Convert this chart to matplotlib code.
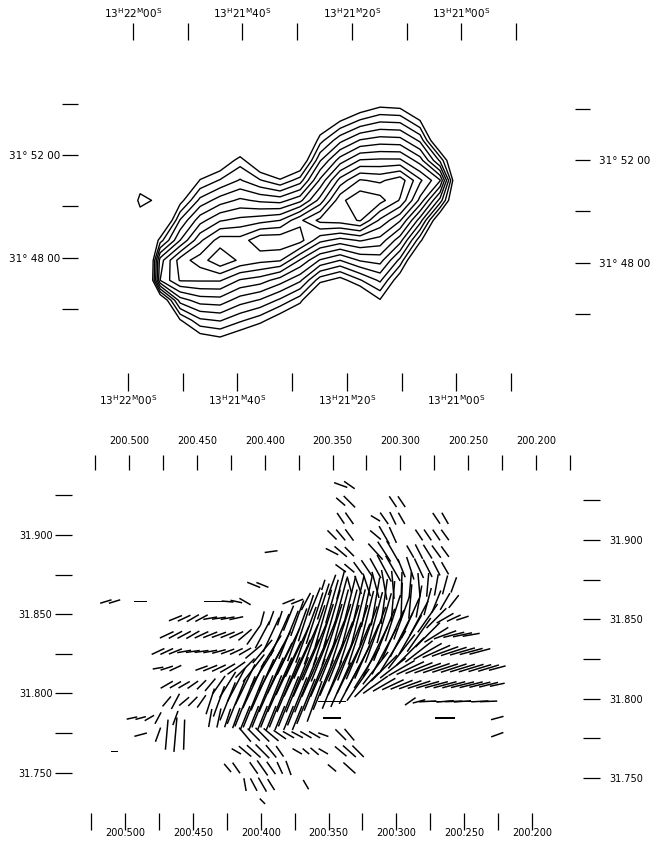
import numpy as np
import matplotlib
matplotlib.use('Agg')
import matplotlib.pyplot as plt

plt.rcParams['font.family'] = ['DejaVu Sans']
plt.rcParams['mathtext.default'] = 'regular'

# ---------------- top panel: total intensity contours ----------------
# grid positions: RA in seconds past 13h21m00s, Dec in arcmin past 31d00m
ra_grid_s = np.linspace(61.9, -3.9, 19)
dec_grid_m = np.linspace(55.0, 44.1, 15)
# number of contours enclosing each grid point (<0 = outside)
contour_count = [
    [-3, -3, -3, -3, -3, -3, -3, -3, -3, -3, -3, -3, -3, -3, -3, -3, -3, -3, -3],
    [-3, -3, -3, -3, -3, -3, -3, -3, -3, -3, -3, -2, -1.2, -0.4, -0.6, -2, -3, -3, -3],
    [-3, -3, -3, -3, -3, -3, -3, -3, -3, -3, -1.1, 0.4, 1.6, 2.3, 2.2, 0.5, -3, -3, -3],
    [-3, -3, -3, -3, -3, -3, -1.7, -3, -3, -3, 1.1, 3.2, 4.6, 5.0, 4.9, 3.3, -1.9, -3, -3],
    [-3, -2, -3, -3, -1.7, -0.7, 1.0, -1.1, -2.7, -1.1, 3.4, 6.0, 7.6, 7.7, 7.7, 6.0, 2.3, -3, -3],
    [-3, -0.3, -3, -2.6, 0.6, 1.6, 2.6, 1.6, 0.7, 2.0, 5.7, 8.9, 10.6, 10.3, 11.1, 8.7, 6.6, -3, -3],
    [-2.5, 0.9, 0.2, 0.0, 2.8, 4.0, 4.7, 4.3, 4.1, 5.2, 7.9, 11.2, 12.3, 11.9, 10.4, 7.2, 3.1, -3, -3],
    [-3, -0.3, -2.6, 2.6, 5.1, 6.4, 6.8, 7.1, 7.5, 9.3, 10.8, 11.0, 11.6, 9.3, 7.6, 4.0, -1.3, -3, -3],
    [-3, -4, 1.0, 4.5, 7.3, 9.0, 8.9, 10.3, 10.3, 9.9, 7.8, 7.1, 7.6, 7.1, 4.9, 0.8, -3, -3, -3],
    [-3, -8, 5.0, 8.0, 9.0, 10.3, 9.3, 8.8, 8.6, 6.4, 4.4, 3.5, 4.6, 4.9, 2.2, -2.4, -3, -3, -3],
    [-3, -8, 5.5, 7.6, 7.6, 7.6, 6.4, 6.0, 5.0, 3.7, 0.9, 0.0, 1.4, 2.7, -0.5, -3, -3, -3, -3],
    [-3, -4, -1.5, 4.0, 5.0, 5.1, 4.0, 3.4, 2.3, 0.9, -2.6, -3, -1.7, 0.4, -3, -3, -3, -3, -3],
    [-3, -3, -3, 0.4, 2.3, 2.6, 1.7, 0.9, -0.4, -1.8, -3, -3, -3, -2, -3, -3, -3, -3, -3],
    [-3, -3, -3, -3, -0.4, 0.1, -0.7, -1.7, -3, -3, -3, -3, -3, -3, -3, -3, -3, -3, -3],
    [-3, -3, -3, -3, -3, -2.4, -3, -3, -3, -3, -3, -3, -3, -3, -3, -3, -3, -3, -3],
]
contour_levels = np.arange(0.5, 12.0, 1.0)

ra_ticks_s = [60, 50, 40, 30, 20, 10, 0, -10]
ra_ticklabels = [r'13$^{H}$22$^{M}$00$^{S}$', '', r'13$^{H}$21$^{M}$40$^{S}$', '',
                 r'13$^{H}$21$^{M}$20$^{S}$', '', r'13$^{H}$21$^{M}$00$^{S}$', '']
dec_ticks_m = [54, 52, 50, 48, 46]
dec_ticklabels = ['', '31° 52 00', '', '31° 48 00', '']

# ---------------- bottom panel: polarisation vectors ----------------
ra_top_ticks = [200.525, 200.500, 200.475, 200.450, 200.425, 200.400, 200.375, 200.350,
                200.325, 200.300, 200.275, 200.250, 200.225, 200.200, 200.175]
ra_bottom_ticks = ra_top_ticks[:-1]
dec_ticks_deg = [31.925, 31.900, 31.875, 31.850, 31.825, 31.800, 31.775, 31.750]

vec_ra0, vec_dra = 200.522, 0.00641      # RA of column 0 and column step (deg)
vec_dec0, vec_ddec = 31.9331, 0.0105     # Dec of row 0 and row step (deg)
N = None
vec_first_col = [28, 28, 28, 27, 20, 28, 18, 1, 9, 8, 7, 7, 8, 8, 4, 5, 2, 15, 17, 19]
# position angle on the page, degrees from west through north
vec_angle = [
    [-20, -35],
    [-41, -45, N, N, N, N, -56, -56],
    [-56, -55, N, N, -31, -55, -64, -60, N, N, N, -56, -60],
    [-45, -50, -54, N, N, -40, -60, -66, N, N, -56, -56, -56, -54],
    [8, N, N, N, N, N, N, -27, -40, -45, N, N, -48, -57, -60, N, -60, -63, -58, -54, -54],
    [-36, -40, -54, -56, -61, -62, -60, -68, -72, -65, -63, -63, -60],
    [-22, -22, N, N, N, N, N, N, 72, 70, 75, -75, -70, -72, -75, -80, -85, 88, 85, -85,
     85, 80, 75, 70],
    [17, 17, N, N, 0, N, N, N, N, N, N, N, 0, 0, -5, -12, -30, N, N, N, N, 22, 22, 62, 68,
     72, 74, 75, 76, 77, 78, 80, 82, 85, 88, 85, 80, 75, 68, 60, 52],
    [22, 25, 30, 28, 10, 8, 10, 12, N, N, 75, 70, 72, 68, 70, 72, 72, 74, 74, 75, 75, 76,
     76, 75, 74, 72, 70, 66, 62, 55, 45, 30, 25, 18],
    [25, 28, 28, 30, 25, 22, 20, 22, 25, 40, 55, 62, 65, 66, 68, 70, 70, 71, 72, 72, 72,
     72, 72, 70, 70, 68, 66, 63, 60, 55, 45, 32, 20, 14, 12, 10],
    [25, 25, 22, 10, 8, 8, 10, 15, 20, 25, 30, 40, 50, 58, 62, 64, 65, 66, 67, 68, 68, 68,
     68, 67, 66, 64, 62, 58, 52, 45, 38, 30, 24, 20, 18, 16, 15, 15],
    [10, 18, 25, N, N, 20, 22, 25, 30, 35, 45, 52, 58, 62, 64, 65, 65, 66, 66, 66, 66, 65,
     64, 62, 58, 52, 45, 38, 30, 25, 22, 20, 19, 18, 18, 17, 17, 17, 17, 15],
    [30, 30, 30, 35, 45, 50, 55, 58, 62, 64, 65, 66, 66, 66, 67, 68, 68, 68, 68, 68, 66,
     62, 55, 45, 35, 30, 25, 22, 20, 18, 16, 15, 15, 15, 14, 14, 14, 14, 12],
    [50, 62, 40, 45, 55, 72, 70, 68, 68, 68, 68, 68, 68, 68, 68, 68, 68, 70, 0, 0, 0,
     N, N, N, N, N, N, N, 35, 15, 3, 0, 5, 2, 4, 0, 3, 2],
    [12, 15, 30, 62, N, 70, N, N, N, 80, 78, 72, 70, 68, 68, 68, 68, 68, 68, 68, N, N, N, 0,
     N, N, N, N, N, N, N, N, N, N, N, N, 0, N, N, N, N, N, 15],
    [15, N, 70, 85, 85, 88, N, N, N, N, N, N, -50, -45, -45, -40, -35, -30, -28, -30, -30,
     -20, N, -45, -50, N, N, N, N, N, N, N, N, N, N, N, N, N, N, N, N, 20],
    [0, N, N, N, N, N, N, N, N, N, N, N, N, N, -30, -40, -42, -45, -50, -55, N, -30, -40,
     -40, -30, N, -40, -42, -45],
    [-50, -55, N, -55, -55, -55, -65, -70, N, N, N, N, -40, N, -42],
    [-80, -62, -60, -58, N, N, N, -60],
    [-45],
]
vec_length = [
    [13, 12],
    [11, 15, N, N, N, N, 12, 12],
    [12, 13, N, N, 10, 13, 13, 12, N, N, N, 12, 12],
    [12, 13, 13, N, N, 13, 19, 16, N, N, 12, 12, 12, 12],
    [12, N, N, N, N, N, N, 13, 15, 12, N, N, 20, 22, 23, N, 13, 15, 15, 14, 12],
    [12, 12, 14, 18, 21, 28, 27, 18, 22, 20, 18, 15, 13],
    [13, 12, N, N, N, N, N, N, 10, 20, 28, 16, 18, 22, 25, 28, 26, 24, 24, 22, 22, 20, 18, 15],
    [11, 11, N, N, 12, N, N, N, N, N, N, N, 11, 11, 11, 11, 12, N, N, N, N, 12, 12, 18, 28,
     35, 42, 45, 48, 48, 48, 45, 42, 38, 35, 32, 30, 26, 22, 18, 15],
    [13, 13, 13, 13, 13, 13, 13, 13, N, N, 13, 14, 14, 25, 35, 45, 50, 55, 55, 55, 55, 55,
     52, 50, 48, 45, 42, 40, 36, 32, 26, 18, 14, 12],
    [14, 14, 14, 14, 14, 14, 14, 14, 14, 16, 22, 28, 35, 42, 48, 52, 55, 58, 60, 60, 60,
     58, 58, 56, 55, 52, 50, 46, 42, 38, 32, 26, 22, 20, 18, 16],
    [13, 13, 13, 13, 13, 13, 13, 13, 13, 13, 13, 20, 28, 35, 42, 48, 52, 55, 58, 60, 60, 60,
     58, 56, 55, 52, 48, 45, 40, 36, 32, 30, 28, 26, 25, 24, 22, 20],
    [10, 12, 12, N, N, 12, 14, 14, 16, 20, 25, 32, 40, 48, 52, 55, 58, 58, 58, 58, 56, 55,
     52, 48, 44, 38, 34, 30, 28, 28, 27, 26, 26, 25, 25, 24, 24, 22, 20, 16],
    [13, 12, 12, 12, 12, 15, 20, 28, 35, 42, 48, 52, 55, 55, 55, 55, 55, 52, 50, 48, 45,
     40, 36, 32, 28, 24, 22, 22, 22, 22, 22, 22, 22, 22, 22, 22, 20, 18, 14],
    [12, 16, 12, 12, 14, 25, 30, 38, 45, 50, 52, 52, 52, 52, 50, 48, 45, 40, 10, 10, 10,
     N, N, N, N, N, N, N, 12, 12, 16, 16, 16, 16, 16, 16, 16, 16],
    [10, 10, 10, 12, N, 14, N, N, N, 17, 18, 18, 20, 24, 24, 24, 24, 24, 24, 24, N, N, N, 17,
     N, N, N, N, N, N, N, N, N, N, N, N, 19, N, N, N, N, N, 12],
    [12, N, 14, 28, 32, 28, N, N, N, N, N, N, 17, 16, 18, 18, 14, 12, 12, 12, 12,
     10, N, 14, 14, N, N, N, N, N, N, N, N, N, N, N, N, N, N, N, N, 12],
    [7, N, N, N, N, N, N, N, N, N, N, N, N, N, 10, 15, 17, 18, 15, 12, N, 10, 8,
     10, 10, N, 14, 16, 15],
    [10, 12, N, 13, 17, 14, 12, 14, N, N, N, N, 10, N, 15],
    [12, 13, 15, 12, N, N, N, 10],
    [7],
]

vx, vy, vu, vv = [], [], [], []
for k in range(len(vec_first_col)):
    for n, (a, L) in enumerate(zip(vec_angle[k], vec_length[k])):
        if a is None:
            continue
        c = vec_first_col[k] + n
        vx.append(vec_ra0 - vec_dra * c)
        vy.append(vec_dec0 - vec_ddec * k)
        vu.append(L * np.cos(np.radians(a)))
        vv.append(L * np.sin(np.radians(a)))

# ---------------- figure ----------------
W, H = 661, 846
fig = plt.figure(figsize=(W / 100, H / 100), dpi=100)


def frac(x0, y0, x1, y1):
    return [x0 / W, 1 - y1 / H, (x1 - x0) / W, (y1 - y0) / H]


def hide(ax):
    for s in ax.spines.values():
        s.set_visible(False)
    ax.tick_params(which='both', bottom=False, top=False, left=False, right=False,
                   labelbottom=False, labeltop=False, labelleft=False, labelright=False)


def side_axis(ax, where, shift, ticks, labels, length, pad, size):
    f = (lambda v: v + shift, lambda v: v - shift)
    if where in ('top', 'bottom'):
        sec = ax.secondary_xaxis(where, functions=f)
        sec.set_xticks(ticks, labels=labels)
    else:
        sec = ax.secondary_yaxis(where, functions=f)
        sec.set_yticks(ticks, labels=labels)
    for s in sec.spines.values():
        s.set_visible(False)
    sec.tick_params(direction='out', length=length, width=0.9, pad=pad,
                    labelsize=size, color='black')
    return sec


# top panel
ax1 = fig.add_axes(frac(78, 40, 575, 373))
ax1.contour(ra_grid_s, dec_grid_m, np.array(contour_count), levels=contour_levels,
            colors='black', linewidths=1.0)
ax1.set_xlim(69.6, -21.26)
ax1.set_ylim(43.6, 56.58)
hide(ax1)
side_axis(ax1, 'top', 0.457, ra_ticks_s, ra_ticklabels, 12, 2.5, 7.5)
side_axis(ax1, 'bottom', -0.457, ra_ticks_s, ra_ticklabels, 13, 1.5, 7.5)
side_axis(ax1, 'left', -0.0975, dec_ticks_m, dec_ticklabels, 11.5, 1, 7.5)
side_axis(ax1, 'right', 0.0975, dec_ticks_m, dec_ticklabels, 11, 6, 7.5)

# bottom panel
ax2 = fig.add_axes(frac(72, 470, 583, 813))
ax2.quiver(vx, vy, vu, vv, angles='uv', scale_units='dots', scale=1 / 1.08, units='dots',
           width=1.5, headwidth=0, headlength=0, headaxislength=0, pivot='middle',
           color='black')
ax2.set_xlim(200.54053, 200.16396)
ax2.set_ylim(31.72618, 31.94259)
hide(ax2)


def deg_labels(ticks):
    return [f'{t:.3f}' if abs(t * 20 - round(t * 20)) < 1e-6 else '' for t in ticks]


side_axis(ax2, 'top', 0.00147, ra_top_ticks, deg_labels(ra_top_ticks), 11, 6, 7)
side_axis(ax2, 'bottom', -0.00147, ra_bottom_ticks, deg_labels(ra_bottom_ticks), 12, -1, 7)
side_axis(ax2, 'left', -0.00158, dec_ticks_deg, deg_labels(dec_ticks_deg), 12, 2, 7)
side_axis(ax2, 'right', 0.00158, dec_ticks_deg, deg_labels(dec_ticks_deg), 12, 7, 7)

fig.savefig('out.png', dpi=100, facecolor='white')
